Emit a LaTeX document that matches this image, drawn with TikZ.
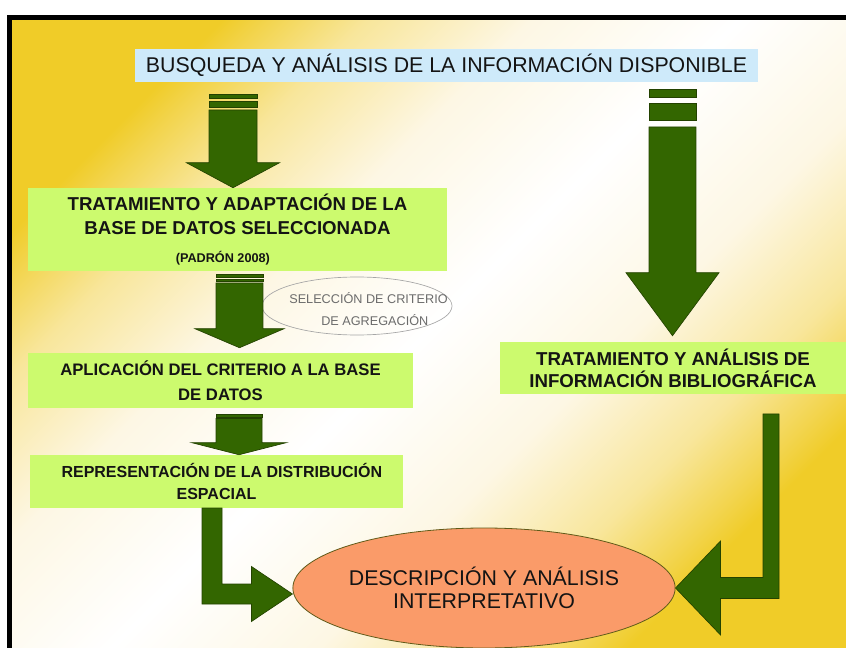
\documentclass[tikz,border=0pt]{standalone}
\usepackage{fontspec}
\setmainfont{Liberation Sans}
\usetikzlibrary{calc,shapes.geometric}

\definecolor{bggold}{RGB}{240,204,40}
\definecolor{bgsand}{RGB}{248,230,155}
\definecolor{bgcream}{RGB}{253,247,228}
\definecolor{topblue}{RGB}{206,234,250}
\definecolor{boxlime}{RGB}{204,250,110}
\definecolor{arrowgreen}{RGB}{51,102,0}
\definecolor{arrowedge}{RGB}{35,66,0}
\definecolor{salmon}{RGB}{250,155,105}
\definecolor{inkdark}{RGB}{20,20,20}

\pgfdeclareverticalshading{slidebg}{100bp}{color(0bp)=(bggold); color(25bp)=(bggold); color(27bp)=(bggold!70!bgsand); color(32bp)=(bgsand); color(40bp)=(bgcream); color(50bp)=(white); color(60bp)=(bgcream); color(68bp)=(bgsand); color(73bp)=(bggold!70!bgsand); color(75bp)=(bggold); color(100bp)=(bggold)}

% block arrow pointing down: start, tip, half shaft, half head, head length
\newcommand{\downblock}[5]{%
  \fill[blockarrow] let \p1=(#1), \p2=(#2) in
    (\x1-#3,\y1) -- (\x1+#3,\y1) -- (\x1+#3,\y2+#5) -- (\x1+#4,\y2+#5) -- (\x2,\y2)
    -- (\x1-#4,\y2+#5) -- (\x1-#3,\y2+#5) -- cycle;}

\begin{document}
\begin{tikzpicture}[
        x=0.75pt, y=-0.75pt,
        topbox/.style={fill=topblue, inner sep=0pt, minimum width=467.25pt, minimum height=24.75pt, text=inkdark, font=\fontsize{16}{19}\selectfont},
        stepbox/.style={fill=boxlime, inner sep=0pt, align=center, text=inkdark, font=\bfseries\fontsize{14}{18}\selectfont},
        blockarrow/.style={fill=arrowgreen, draw=arrowedge, line width=0.5pt},
        critell/.style={ellipse, draw=gray!70, line width=0.5pt, inner sep=0pt, minimum width=142.5pt, minimum height=43.5pt},
        crittext/.style={align=left, text=gray!85!black, font=\fontsize{9.5}{16.5}\selectfont},
        resultell/.style={ellipse, fill=salmon, draw=arrowedge!60!brown, line width=0.6pt, inner sep=0pt, minimum width=244.5pt, minimum height=90pt, align=center, text=inkdark, font=\fontsize{16}{17}\selectfont}
    ]
        \useasboundingbox (0,0) rectangle (846,648);
        % slide background
        \fill[white] (0,0) rectangle (846,648);
        \shade[shading=slidebg, shading angle=45] (8,16) rectangle (846,648);
        \draw[line width=3.5pt] (9.5,648) -- (9.5,17.5) -- (846,17.5);

        % Nodes
        \node[topbox] (search) at (446.5,65.5) {BUSQUEDA Y ANÁLISIS DE LA INFORMACIÓN DISPONIBLE};
        \node[stepbox, minimum width=314.25pt, minimum height=62.25pt] (adapt) at (237.5,229.5)
            {TRATAMIENTO Y ADAPTACIÓN DE LA\\BASE DE DATOS SELECCIONADA\\[3pt]\fontsize{9.5}{12}\selectfont (PADRÓN 2008)\hspace*{22pt}};
        \node[stepbox, minimum width=288.75pt, minimum height=41.25pt, font=\bfseries\fontsize{12.5}{18.5}\selectfont] (apply) at (220.5,380.5)
            {APLICACIÓN DEL CRITERIO A LA BASE\\DE DATOS};
        \node[stepbox, minimum width=279.75pt, minimum height=39.75pt, font=\bfseries\fontsize{12}{16.5}\selectfont] (spatial) at (216.5,481.5)
            {\hspace*{8pt}REPRESENTACIÓN DE LA DISTRIBUCIÓN\\ESPACIAL};
        \node[stepbox, minimum width=259.5pt, minimum height=39pt, font=\bfseries\fontsize{14}{16.5}\selectfont] (biblio) at (673,368)
            {TRATAMIENTO Y ANÁLISIS DE\\INFORMACIÓN BIBLIOGRÁFICA};
        \node[critell] (crit) at (357,306) {};
        \node[crittext] (crittxt) at (368.5,309) {SELECCIÓN DE CRITERIO\\\hspace*{24pt}DE AGREGACIÓN};
        \node[resultell] (result) at (484,588) {DESCRIPCIÓN Y ANÁLISIS\\INTERPRETATIVO};

        % Arrows
        \coordinate (a1s) at (233,110);
        \coordinate (a2s) at (239.5,283);
        \coordinate (a3s) at (239,418.5);
        \coordinate (b1s) at (672.5,127);
        \coordinate (elL) at (212,508);
        \coordinate (elR) at (771,414);

        \fill[blockarrow] ($(a1s)+(-24,-16)$) rectangle ++(48,4);
        \fill[blockarrow] ($(a1s)+(-24,-9)$) rectangle ++(48,6);
        \downblock{a1s}{a1s |- adapt.north}{18pt}{34.9pt}{18.75pt}

        \fill[blockarrow] ($(a2s)+(-23.5,-8.5)$) rectangle ++(47,3);
        \fill[blockarrow] ($(a2s)+(-23.5,-3.5)$) rectangle ++(47,2);
        \downblock{a2s}{$(a2s |- apply.north)+(0,-5)$}{17.6pt}{33.4pt}{14.25pt}

        \fill[blockarrow] ($(a3s)+(-23,-4.5)$) rectangle ++(46,3);
        \downblock{a3s}{a3s |- spatial.north}{17.25pt}{35.25pt}{9pt}

        \fill[blockarrow] ($(b1s)+(-23.5,-38)$) rectangle ++(47,8);
        \fill[blockarrow] ($(b1s)+(-23.5,-24)$) rectangle ++(47,17);
        \downblock{b1s}{$(b1s |- biblio.north)+(0,-6)$}{17.6pt}{34.9pt}{47.25pt}

        \fill[blockarrow] let \p1=(elL), \p2=($(result.west)+(0,6)$) in
            (\x1-7.5pt,\y1) -- (\x1+7.5pt,\y1) -- (\x1+7.5pt,\y2+7.5pt) -- (\x2-30.75pt,\y2+7.5pt)
            -- (\x2-30.75pt,\y2+20.6pt) -- (\x2,\y2) -- (\x2-30.75pt,\y2-20.6pt)
            -- (\x2-30.75pt,\y2-7.5pt) -- (\x1-7.5pt,\y2-7.5pt) -- cycle;
        \fill[blockarrow] let \p1=(elR), \p2=(result.east) in
            (\x1-6pt,\y1) -- (\x1+6pt,\y1) -- (\x1+6pt,\y2-7.9pt) -- (\x2+33.75pt,\y2-7.9pt)
            -- (\x2+33.75pt,\y2-35.25pt) -- (\x2,\y2) -- (\x2+33.75pt,\y2+35.25pt)
            -- (\x2+33.75pt,\y2+7.9pt) -- (\x1-6pt,\y2+7.9pt) -- cycle;
    \end{tikzpicture}
\end{document}
